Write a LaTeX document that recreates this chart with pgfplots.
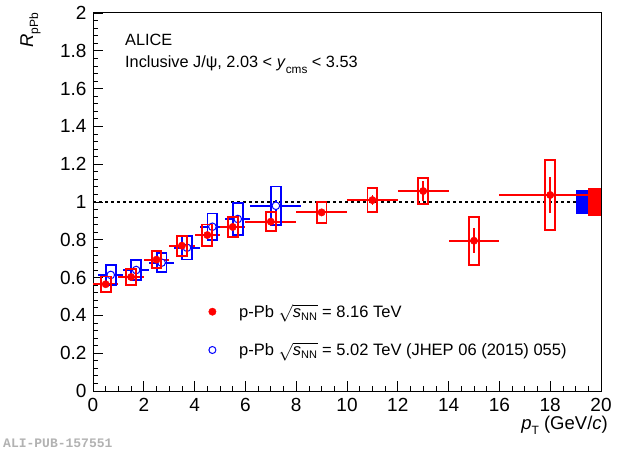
\documentclass[border=0pt]{standalone}
\usepackage{fontspec}
\setmainfont{Liberation Sans}
\newfontfamily\monofont{Liberation Mono}
\usepackage{pgfplots}
\pgfplotsset{compat=1.18}
\usepackage{pgfplotstable}

\pgfplotstableread{
x    ex   y     ey    s
0.5  0.5  0.565 0.012 0.041
1.5  0.5  0.603 0.012 0.044
2.5  0.5  0.695 0.013 0.044
3.5  0.5  0.769 0.014 0.053
4.5  0.5  0.825 0.016 0.056
5.5  0.5  0.868 0.018 0.051
7.0  1.0  0.896 0.016 0.051
9.0  1.0  0.945 0.020 0.054
11.0 1.0  1.010 0.028 0.063
13.0 1.0  1.058 0.053 0.069
15.0 1.0  0.795 0.066 0.126
18.0 2.0  1.037 0.097 0.186
}\redtab

\pgfplotstableread{
x    ex   y     ey    s
0.7  0.5  0.614 0.014 0.053
1.7  0.5  0.640 0.014 0.053
2.7  0.5  0.679 0.015 0.051
3.7  0.5  0.758 0.016 0.062
4.7  0.5  0.869 0.018 0.070
5.7  0.5  0.910 0.022 0.084
7.2  1.0  0.980 0.028 0.102
}\bluetab

\definecolor{rootred}{RGB}{255,0,0}
\definecolor{rootblue}{RGB}{0,0,255}

\begin{document}
\begin{tikzpicture}[x=1pt,y=1pt]
\useasboundingbox (0,0) rectangle (620,450);
\begin{axis}[
  at={(93pt,59pt)}, anchor=south west,
  scale only axis, width=508pt, height=378pt,
  xmin=0, xmax=20, ymin=0, ymax=2,
  xtick={0,2,4,6,8,10,12,14,16,18,20},
  ytick={0,0.2,0.4,0.6,0.8,1,1.2,1.4,1.6,1.8,2},
  minor x tick num=3, minor y tick num=4,
  tick pos=left, tick align=inside,
  major tick length=10pt, minor tick length=5pt,
  tick style={black, line width=0.8pt},
  axis line style={black, line width=1pt},
  ticklabel style={font=\fontsize{19}{21}\selectfont},
  /pgf/number format/assume math mode=true,
  xticklabel style={yshift=-3.5pt},
  yticklabel style={xshift=-3pt},
  legend image code/.code={\draw[#1] plot coordinates {(0pt,0pt)};},
  legend style={at={(axis cs:4.555,0.5209)}, anchor=north west,
    draw=none, fill=none, inner sep=0pt, outer sep=0pt,
    column sep=23pt, row sep=0pt,
    nodes={inner sep=0pt, outer sep=0pt, minimum height=38.3pt},
    font=\fontsize{16.5}{19}\selectfont},
  legend cell align=left,
]
% reference line
\addplot[forget plot, black, line width=1.7pt, dash pattern=on 3pt off 3pt]
  coordinates {(0,1) (19,1)};
% global uncertainties
\addplot[forget plot, fill=rootblue, draw=none]
  coordinates {(19,0.935) (19.5,0.935) (19.5,1.063) (19,1.063)} --cycle;
\addplot[forget plot, fill=rootred, draw=none]
  coordinates {(19.5,0.928) (20,0.928) (20,1.072) (19.5,1.072)} --cycle;
% blue systematic boxes
\addplot[forget plot, only marks, scatter, mark=square, mark size=4.9pt,
  line width=1.9pt,
  scatter/use mapped color={draw=rootblue, fill=none},
  visualization depends on={\thisrow{s}*38.57 \as \ysc},
  scatter/@pre marker code/.append style={/tikz/yscale=\ysc}]
  table[x=x, y=y] {\bluetab};
% blue points
\addplot[forget plot, only marks, mark=*, mark size=3.8pt,
  mark options={draw=rootblue, fill=white, line width=1pt},
  error bars/.cd, x dir=both, x explicit, y dir=both, y explicit,
  error mark=none, error bar style={rootblue, line width=1.8pt}]
  table[x=x, y=y, x error=ex, y error=ey] {\bluetab};
% red systematic boxes
\addplot[forget plot, only marks, scatter, mark=square, mark size=4.9pt,
  line width=1.9pt,
  scatter/use mapped color={draw=rootred, fill=none},
  visualization depends on={\thisrow{s}*38.57 \as \ysc},
  scatter/@pre marker code/.append style={/tikz/yscale=\ysc}]
  table[x=x, y=y] {\redtab};
% red points
\addplot[forget plot, only marks, mark=*, mark size=3.7pt,
  mark options={draw=rootred, fill=rootred, line width=0.4pt},
  error bars/.cd, x dir=both, x explicit, y dir=both, y explicit,
  error mark=none, error bar style={rootred, line width=1.8pt}]
  table[x=x, y=y, x error=ex, y error=ey] {\redtab};
% legend
\addlegendimage{mark=*, mark size=3.7pt, mark options={draw=rootred, fill=rootred, line width=0.4pt}}
\addlegendentry{p-Pb $\sqrt{\mbox{\textit{s}}_{\mbox{\fontsize{11}{12}\selectfont NN}}}$ = 8.16 TeV}
\addlegendimage{mark=*, mark size=3.5pt, mark options={draw=rootblue, fill=white, line width=1pt}}
\addlegendentry{p-Pb $\sqrt{\mbox{\textit{s}}_{\mbox{\fontsize{11}{12}\selectfont NN}}}$ = 5.02 TeV (JHEP 06 (2015) 055)}
\end{axis}
\node[anchor=base west, inner sep=0pt, font=\fontsize{16.3}{18}\selectfont] at (125,404.3) {ALICE};
\node[anchor=base west, inner sep=0pt, font=\fontsize{16.3}{18}\selectfont] at (125,382)
  {Inclusive J/ψ, 2.03 < \textit{y}\raisebox{-6pt}{\fontsize{11.8}{12}\selectfont cms} < 3.53};
\node[anchor=base east, inner sep=0pt, font=\fontsize{18.5}{20}\selectfont] at (608,20.5)
  {\textit{p}\raisebox{-5pt}{\fontsize{12}{12}\selectfont T} (GeV/\textit{c})};
\node[rotate=90, anchor=base east, inner sep=0pt, font=\fontsize{18.5}{20}\selectfont] at (33,437)
  {\textit{R}\raisebox{-5pt}{\fontsize{12}{12}\selectfont pPb}};
\node[anchor=base west, inner sep=0pt, text=black!30, font=\monofont\bfseries\fontsize{13}{14}\selectfont] at (3,3)
  {ALI-PUB-157551};
\end{tikzpicture}
\end{document}
